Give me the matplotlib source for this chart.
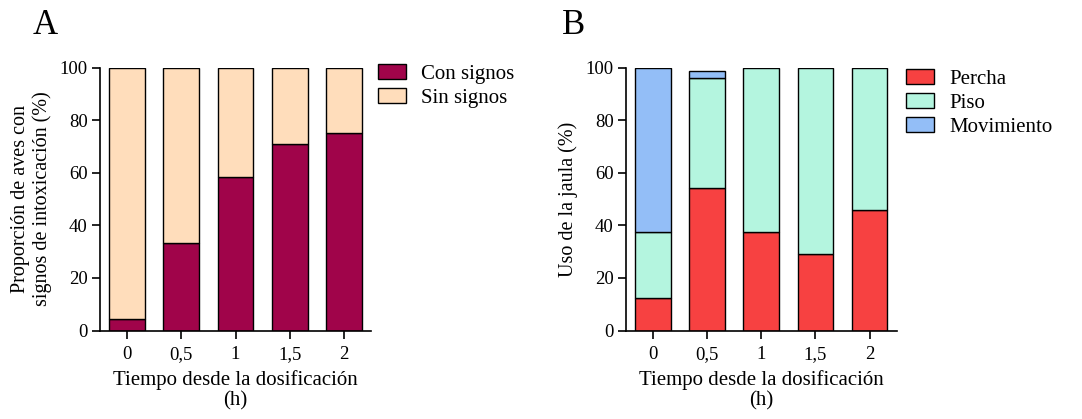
import matplotlib
matplotlib.use("Agg")
import matplotlib.pyplot as plt
import numpy as np

plt.rcParams["font.family"] = ["Liberation Serif", "DejaVu Serif"]

# data
tiempos = ["0", "0,5", "1", "1,5", "2"]

con_signos = [4.2, 33.3, 58.3, 70.8, 75.0]
sin_signos = [95.8, 66.7, 41.7, 29.2, 25.0]

percha = [12.5, 54.2, 37.5, 29.2, 45.8]
piso = [25.0, 41.7, 62.5, 70.8, 54.2]
movimiento = [62.5, 2.9, 0.0, 0.0, 0.0]

col_con = "#A0044A"
col_sin = "#FFDDBB"
col_percha = "#F74141"
col_piso = "#B4F5DF"
col_mov = "#93BEF7"

fig = plt.figure(figsize=(10.82, 4.19), dpi=100)


def style_axes(ax, ylabel):
    ax.set_xlim(-0.5, 4.5)
    ax.set_ylim(0, 100)
    ax.set_yticks([0, 20, 40, 60, 80, 100])
    ax.set_xticks(np.arange(len(tiempos)))
    ax.set_xticklabels(tiempos)
    ax.spines["top"].set_visible(False)
    ax.spines["right"].set_visible(False)
    for s in ("left", "bottom"):
        ax.spines[s].set_linewidth(1.2)
    ax.tick_params(axis="both", direction="out", length=6, width=1.2, labelsize=13.5)
    ax.tick_params(axis="x", pad=5)
    ax.tick_params(axis="y", pad=3)
    ax.set_xlabel("Tiempo desde la dosificación\n(h)", fontsize=15, labelpad=5, linespacing=1.1)
    ax.set_ylabel(ylabel, fontsize=14.5, linespacing=1.15, labelpad=5)


x = np.arange(len(tiempos))
w = 0.66

# panel A
axA = fig.add_axes([100 / 1082, 1 - 330.5 / 419, 271 / 1082, 262.8 / 419])
axA.bar(x, con_signos, w, color=col_con, edgecolor="black", linewidth=1, label="Con signos")
axA.bar(x, sin_signos, w, bottom=con_signos, color=col_sin, edgecolor="black", linewidth=1, label="Sin signos")
style_axes(axA, "Proporción de aves con\nsignos de intoxicación (%)")
axA.legend(loc="upper left", bbox_to_anchor=(370 / 1082, 1 - 56 / 419), bbox_transform=fig.transFigure,
           frameon=False, fontsize=15, handlelength=1.35, handleheight=0.72, handletextpad=0.7,
           labelspacing=0.2, borderaxespad=0)
fig.text(33 / 1082, 1 - 34 / 419, "A", fontsize=25)

# panel B
axB = fig.add_axes([626 / 1082, 1 - 330.5 / 419, 270.7 / 1082, 262.8 / 419])
axB.bar(x, percha, w, color=col_percha, edgecolor="black", linewidth=1, label="Percha")
axB.bar(x, piso, w, bottom=percha, color=col_piso, edgecolor="black", linewidth=1, label="Piso")
base = [p + q for p, q in zip(percha, piso)]
mov_x = [i for i in x if movimiento[i] > 0]
axB.bar(mov_x, [movimiento[i] for i in mov_x], w, bottom=[base[i] for i in mov_x],
        color=col_mov, edgecolor="black", linewidth=1, label="Movimiento")
style_axes(axB, "Uso de la jaula (%)")
axB.legend(loc="upper left", bbox_to_anchor=(898 / 1082, 1 - 61 / 419), bbox_transform=fig.transFigure,
           frameon=False, fontsize=15, handlelength=1.35, handleheight=0.72, handletextpad=0.7,
           labelspacing=0.2, borderaxespad=0)
fig.text(562 / 1082, 1 - 34 / 419, "B", fontsize=25)

fig.savefig("out.png", dpi=100, facecolor="white")
